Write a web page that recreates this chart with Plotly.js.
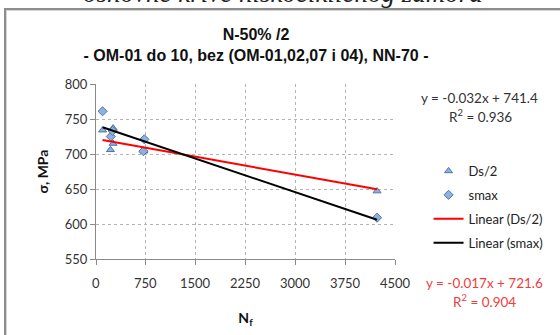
<!DOCTYPE html>
<html>
<head>
<meta charset="utf-8">
<script src="https://cdn.plot.ly/plotly-3.0.1.min.js"></script>
<style>
  html, body { margin: 0; padding: 0; background: #ffffff; }
  #frame { position: absolute; left: 4px; top: 8px; width: 600px; height: 400px;
           border-left: 2px solid #8e8e8e; border-top: 2px solid #8e8e8e;
           box-shadow: inset 1px 1px 0 #d4d4d4; }
  #chart { position: absolute; left: 0; top: 0; width: 560px; height: 335px; }
</style>
</head>
<body>
<div id="frame"></div>
<div id="chart"></div>
<script>
// Data
const ds2X  = [99, 218, 257, 257, 720, 4230];
const ds2Y  = [734, 706, 715, 737, 704, 647];
const smaxX = [99, 223, 250, 728, 713, 4230];
const smaxY = [761, 725, 733, 721, 704, 609];

// Trendline coefficients printed on the chart
const trendNames  = ['Linear (Ds/2)', 'Linear (smax)'];
const trendSlope  = [-0.017, -0.032];
const trendInter  = [721.6, 741.4];
const trendR2     = [0.904, 0.936];

const xTicks = [0, 750, 1500, 2250, 3000, 3750, 4500];
const yTicks = [550, 600, 650, 700, 750, 800];

const fontTick = 'Lato, "Noto Sans", sans-serif';

function lineFrom(slope, inter, xs) {
  const x0 = Math.min(...xs), x1 = Math.max(...xs);
  return { x: [x0, x1], y: [slope * x0 + inter, slope * x1 + inter] };
}
const redL = lineFrom(trendSlope[0], trendInter[0], ds2X);
const blkL = lineFrom(trendSlope[1], trendInter[1], smaxX);

const markerLine = { color: '#4d76ad', width: 1 };
const traces = [
  { x: ds2X, y: ds2Y, name: 'Ds/2', type: 'scatter', mode: 'markers', legendgroup: 'a',
    marker: { symbol: 'triangle-up', size: 7, color: '#8fb1dc', line: markerLine } },
  { x: smaxX, y: smaxY, name: 'smax', type: 'scatter', mode: 'markers', legendgroup: 'b',
    marker: { symbol: 'diamond', size: 7, color: '#8fb1dc', line: markerLine } },
  { x: redL.x, y: redL.y, name: trendNames[0], type: 'scatter', mode: 'lines', legendgroup: 'c',
    line: { color: '#ff0000', width: 2 } },
  { x: blkL.x, y: blkL.y, name: trendNames[1], type: 'scatter', mode: 'lines', legendgroup: 'd',
    line: { color: '#000000', width: 2 } }
];

function eq(slope, inter) {
  return 'y = ' + slope.toFixed(3) + 'x + ' + inter.toFixed(1);
}

const W = 560, H = 335, L = 96, R = 399, T = 84, B = 259;
const px = v => (v - L) / (R - L);
const py = v => (B - v) / (B - T);

const tickFont = { family: fontTick, size: 13, color: '#333333' };

// x tick labels placed through the x scale, one row below the axis
const xLabelAnns = xTicks.map(v => ({
  text: String(v), xref: 'x', yref: 'paper', x: v, y: py(283),
  xanchor: 'center', yanchor: 'middle', showarrow: false, font: tickFont
}));

const layout = {
  width: W, height: H,
  margin: { l: L, r: W - R, t: T, b: H - B, pad: 0 },
  paper_bgcolor: 'rgba(0,0,0,0)',
  plot_bgcolor: '#ffffff',
  showlegend: true,
  title: {
    text: 'N-50% /2<br>- OM-01 do 10, bez (OM-01,02,07 i 04), NN-70 -',
    font: { family: '"Liberation Sans", Arial, sans-serif', size: 16, color: '#111111', weight: 'bold' },
    x: 256 / W, xanchor: 'center', xref: 'container',
    y: 1 - 40 / H, yanchor: 'top', yref: 'container'
  },
  xaxis: {
    range: [0, 4500], tickvals: xTicks, showticklabels: false,
    showgrid: true, gridcolor: '#b4b4b4', griddash: 'dot', gridwidth: 1,
    showline: true, linecolor: '#8a8a8a', linewidth: 1,
    ticks: 'outside', ticklen: 5, tickcolor: '#8a8a8a', zeroline: false,
    title: { text: 'N<sub>f</sub>', font: { family: fontTick, size: 14, color: '#111111', weight: 'bold' }, standoff: 49 }
  },
  yaxis: {
    range: [550, 800], tickvals: yTicks, ticktext: yTicks.map(String),
    showgrid: true, gridcolor: '#b4b4b4', griddash: 'dot', gridwidth: 1,
    showline: true, linecolor: '#8a8a8a', linewidth: 1,
    ticks: 'outside', ticklen: 5, tickcolor: '#8a8a8a',
    tickfont: tickFont, zeroline: false,
    title: { text: 'σ, MPa', font: { family: fontTick, size: 14, color: '#111111', weight: 'bold' }, standoff: 12 }
  },
  legend: {
    x: px(433), xanchor: 'left', y: py(156), yanchor: 'top',
    font: { family: fontTick, size: 13, color: '#222222' },
    bgcolor: 'rgba(0,0,0,0)', borderwidth: 0,
    traceorder: 'grouped', tracegroupgap: 4, itemwidth: 30
  },
  annotations: xLabelAnns.concat([
    { text: eq(trendSlope[1], trendInter[1]), xref: 'paper', yref: 'paper', x: px(485), y: py(98),
      xanchor: 'center', yanchor: 'middle', showarrow: false,
      font: { family: fontTick, size: 13.5, color: '#333333' } },
    { text: 'R<sup>2</sup> = ' + trendR2[1].toFixed(3), xref: 'paper', yref: 'paper', x: px(486), y: py(116),
      xanchor: 'center', yanchor: 'middle', showarrow: false,
      font: { family: fontTick, size: 13.5, color: '#333333' } },
    { text: eq(trendSlope[0], trendInter[0]), xref: 'paper', yref: 'paper', x: px(490), y: py(283),
      xanchor: 'center', yanchor: 'middle', showarrow: false,
      font: { family: fontTick, size: 13.5, color: '#f03c3c' } },
    { text: 'R<sup>2</sup> = ' + trendR2[0].toFixed(3), xref: 'paper', yref: 'paper', x: px(490), y: py(301),
      xanchor: 'center', yanchor: 'middle', showarrow: false,
      font: { family: fontTick, size: 13.5, color: '#f03c3c' } },
    { text: 'osnovne krive niskocikličnog zamora', xref: 'paper', yref: 'paper', x: px(285), y: py(10),
      xanchor: 'center', yanchor: 'bottom', showarrow: false,
      font: { family: '"Liberation Serif", "DejaVu Serif", serif', size: 27, color: '#222222', style: 'italic' } }
  ])
};

Plotly.newPlot('chart', traces, layout, { displayModeBar: false, staticPlot: true });
</script>
</body>
</html>
